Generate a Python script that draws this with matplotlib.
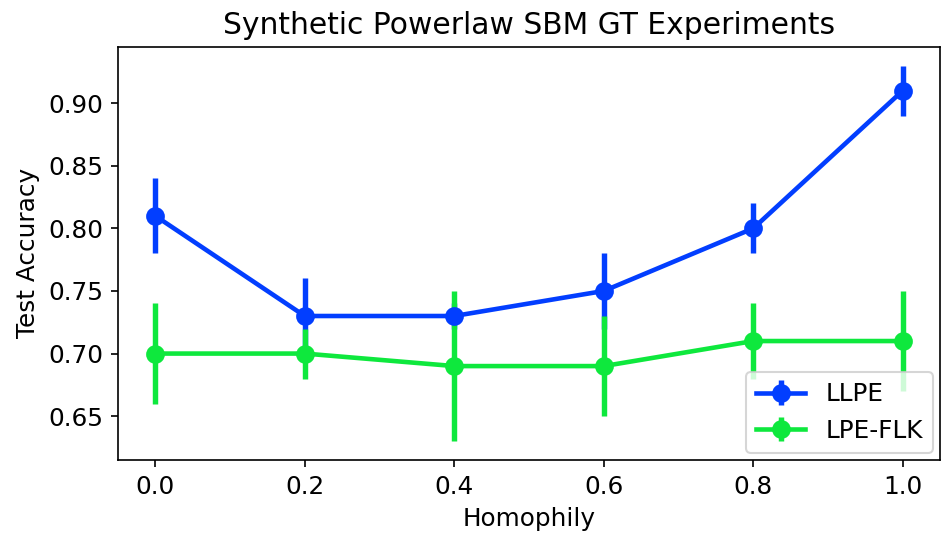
import matplotlib
matplotlib.use("Agg")
from matplotlib import pyplot as plt

# homofilia x acuracia
homophily = [0.0, 0.2, 0.4, 0.6, 0.8, 1.0]
llpe_acc = [0.81, 0.73, 0.73, 0.75, 0.80, 0.91]
llpe_err = [0.03, 0.03, 0.01, 0.03, 0.02, 0.02]
flk_acc = [0.70, 0.70, 0.69, 0.69, 0.71, 0.71]
flk_err = [0.04, 0.02, 0.06, 0.04, 0.03, 0.04]

plt.rcParams['font.size'] = 11.9

fig = plt.figure(figsize=(943 / 150, 538 / 150), dpi=150)
ax = fig.add_axes([0.125, 0.145, 0.872, 0.768])

ax.errorbar(homophily, llpe_acc, yerr=llpe_err, color='#023eff', marker='o',
            markersize=8, linewidth=2.2, elinewidth=2.6, label='LLPE')
ax.errorbar(homophily, flk_acc, yerr=flk_err, color='#0ee83d', marker='o',
            markersize=8, linewidth=2.2, elinewidth=2.6, label='LPE-FLK')

ax.set_title("Synthetic Powerlaw SBM GT Experiments", fontsize=14.3)
ax.set_xlabel("Homophily")
ax.set_ylabel("Test Accuracy")
ax.legend(loc='lower right', borderaxespad=0.3)

fig.savefig("out.png", dpi=150)
